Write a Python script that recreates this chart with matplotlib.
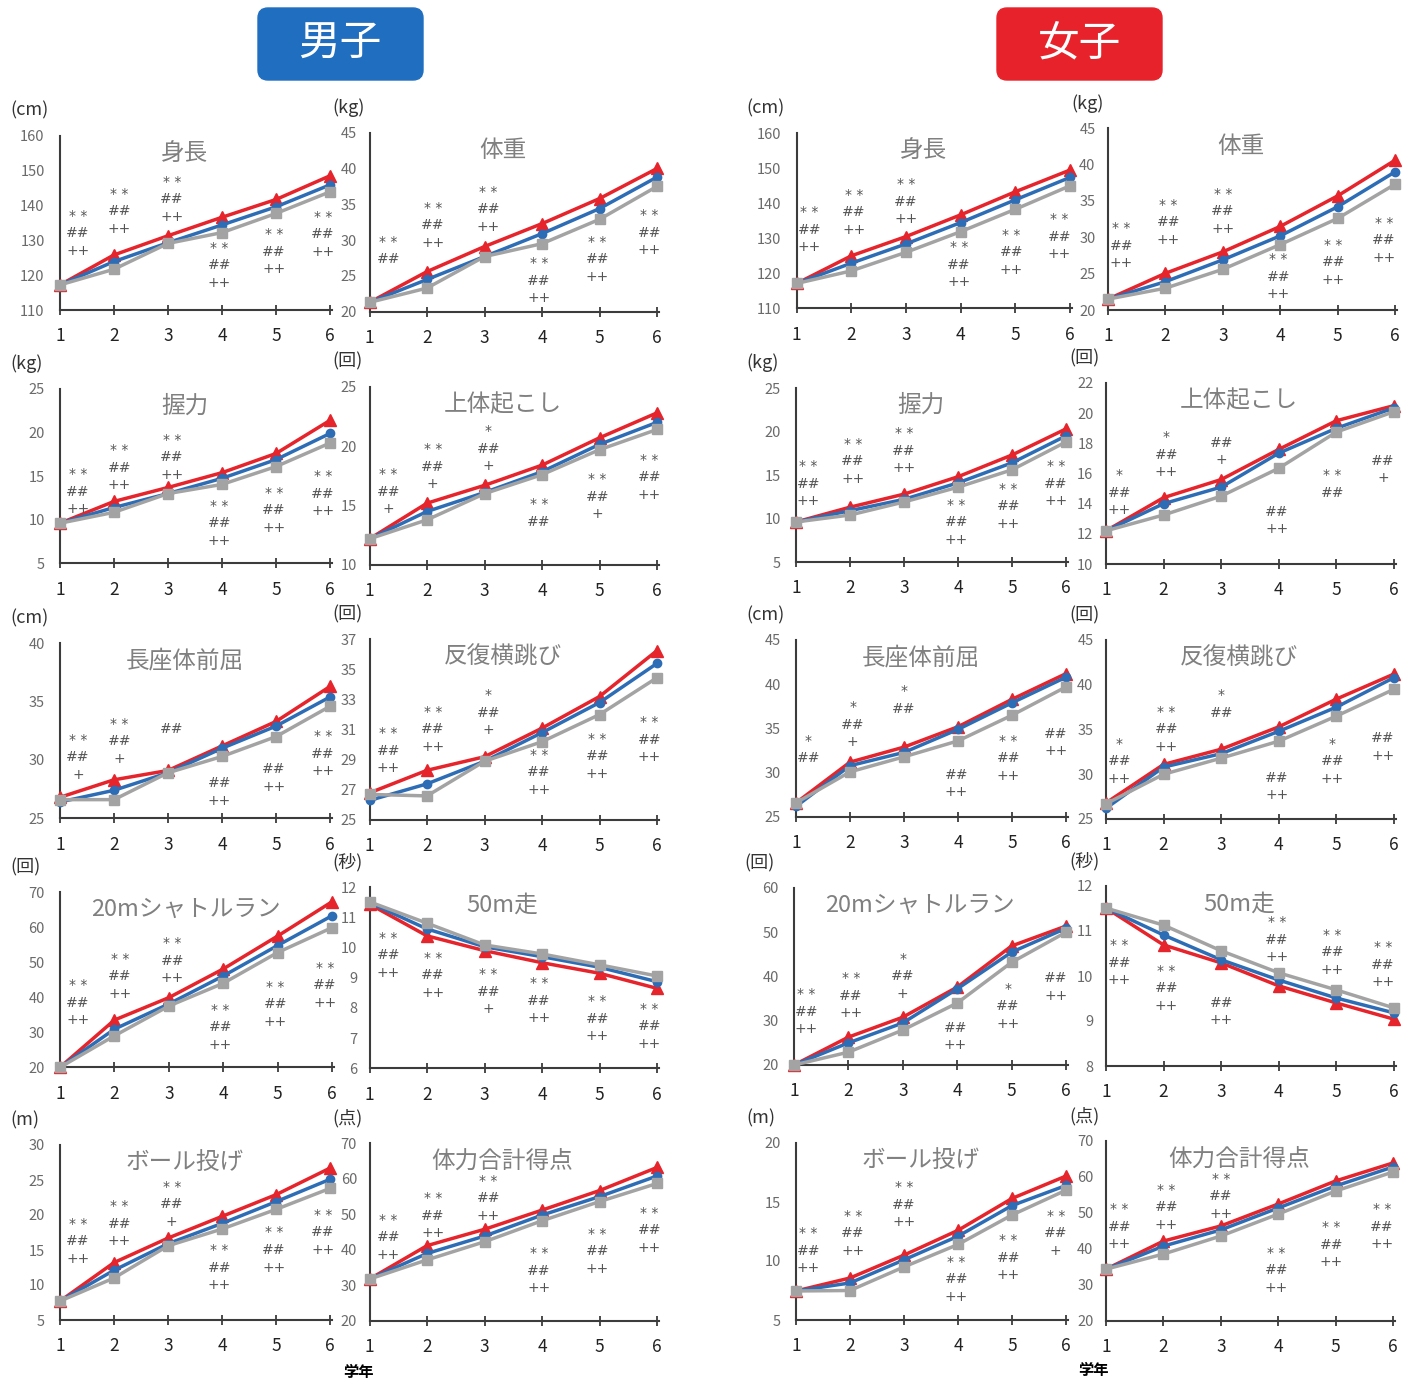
import matplotlib
matplotlib.use("Agg")
import matplotlib.pyplot as plt
from matplotlib.patches import FancyBboxPatch
import matplotlib.transforms as mtrans

plt.rcParams['font.family'] = ['Noto Sans CJK JP', 'DejaVu Sans']

W, H = 1410, 1381

grades = [1, 2, 3, 4, 5, 6]
titles = ["身長", "体重", "握力", "上体起こし", "長座体前屈", "反復横跳び",
          "20mシャトルラン", "50m走", "ボール投げ", "体力合計得点"]
units = ["(cm)", "(kg)", "(kg)", "(回)", "(cm)", "(回)", "(回)", "(秒)", "(m)", "(点)"]

# ---- boys (red / blue / gray) ----
b_height_r = [117.2, 125.8, 131.3, 136.6, 141.7, 148.5]
b_height_b = [117.2, 123.9, 129.3, 134.4, 139.6, 145.9]
b_height_g = [117.2, 121.7, 129.1, 132.2, 137.7, 143.9]
b_weight_r = [21.3, 25.6, 29.1, 32.3, 35.8, 40.0]
b_weight_b = [21.3, 24.5, 27.7, 30.9, 34.4, 38.8]
b_weight_g = [21.3, 23.3, 27.7, 29.5, 32.9, 37.5]
b_grip_r = [9.6, 12.1, 13.7, 15.4, 17.6, 21.4]
b_grip_b = [9.6, 11.4, 13.0, 14.75, 16.9, 19.9]
b_grip_g = [9.6, 10.85, 13.0, 14.05, 16.1, 18.8]
b_situp_r = [12.2, 15.2, 16.7, 18.4, 20.7, 22.8]
b_situp_b = [12.2, 14.5, 16.1, 17.85, 20.15, 22.0]
b_situp_g = [12.2, 13.8, 16.0, 17.6, 19.7, 21.4]
b_reach_r = [26.8, 28.3, 29.1, 31.2, 33.3, 36.3]
b_reach_b = [26.4, 27.4, 28.9, 31.0, 32.9, 35.4]
b_reach_g = [26.6, 26.6, 28.9, 30.3, 32.0, 34.6]
b_step_r = [26.8, 28.3, 29.2, 31.1, 33.2, 36.25]
b_step_b = [26.3, 27.4, 28.9, 30.8, 32.8, 35.4]
b_step_g = [26.7, 26.6, 28.9, 30.2, 32.0, 34.45]
b_shuttle_r = [20, 33.5, 39.9, 48.1, 57.5, 67.3]
b_shuttle_b = [20, 30.9, 38.1, 46.1, 54.8, 63.3]
b_shuttle_g = [20, 29.0, 37.5, 44.0, 52.8, 59.9]
b_dash_r = [11.44, 10.39, 9.9, 9.5, 9.15, 8.65]
b_dash_b = [11.49, 10.62, 10.03, 9.7, 9.35, 8.87]
b_dash_g = [11.52, 10.81, 10.09, 9.79, 9.43, 9.06]
b_throw_r = [7.7, 13.2, 16.7, 19.8, 22.9, 26.7]
b_throw_b = [7.7, 12.1, 15.9, 18.8, 21.9, 25.1]
b_throw_g = [7.7, 11.0, 15.6, 18.0, 20.8, 23.8]
b_total_r = [31.8, 41.2, 45.8, 51.2, 56.7, 63.2]
b_total_b = [31.8, 39.0, 43.9, 49.8, 55.0, 60.8]
b_total_g = [31.8, 37.2, 42.3, 48.2, 53.6, 58.7]

# ---- girls (red / blue / gray) ----
g_height_r = [117.1, 125.0, 130.5, 136.7, 143.3, 149.5]
g_height_b = [117.1, 122.9, 128.4, 134.5, 141.0, 147.4]
g_height_g = [117.1, 120.7, 126.0, 131.9, 138.3, 145.0]
g_weight_r = [21.5, 25.05, 28.0, 31.5, 35.7, 40.6]
g_weight_b = [21.5, 23.9, 26.9, 30.2, 34.2, 39.0]
g_weight_g = [21.5, 23.0, 25.6, 29.0, 32.6, 37.3]
g_grip_r = [9.6, 11.3, 12.8, 14.8, 17.3, 20.3]
g_grip_b = [9.6, 10.9, 12.2, 14.1, 16.4, 19.5]
g_grip_g = [9.6, 10.4, 11.9, 13.6, 15.6, 18.8]
g_situp_r = [12.2, 14.4, 15.6, 17.6, 19.5, 20.5]
g_situp_b = [12.2, 14.0, 15.1, 17.35, 19.0, 20.35]
g_situp_g = [12.2, 13.25, 14.5, 16.35, 18.75, 20.1]
g_reach_r = [26.6, 31.2, 32.9, 35.2, 38.3, 41.2]
g_reach_b = [26.2, 30.8, 32.3, 34.9, 37.9, 40.8]
g_reach_g = [26.6, 30.1, 31.8, 33.6, 36.5, 39.7]
g_step_r = [26.8, 31.1, 32.8, 35.3, 38.4, 41.2]
g_step_b = [26.2, 30.8, 32.3, 34.8, 37.5, 40.8]
g_step_g = [26.7, 30.0, 31.8, 33.7, 36.5, 39.5]
g_shuttle_r = [20, 26.3, 30.8, 37.6, 46.9, 51.4]
g_shuttle_b = [20, 25.0, 29.5, 37.2, 45.5, 50.9]
g_shuttle_g = [20, 22.9, 27.9, 34.0, 43.2, 50.0]
g_dash_r = [11.51, 10.69, 10.29, 9.78, 9.4, 9.04]
g_dash_b = [11.51, 10.91, 10.36, 9.91, 9.51, 9.18]
g_dash_g = [11.51, 11.13, 10.56, 10.07, 9.69, 9.29]
g_throw_r = [7.46, 8.56, 10.5, 12.6, 15.3, 17.2]
g_throw_b = [7.46, 8.14, 10.1, 12.1, 14.7, 16.4]
g_throw_g = [7.46, 7.5, 9.5, 11.4, 13.9, 16.0]
g_total_r = [34.4, 42.2, 46.4, 52.5, 58.9, 63.9]
g_total_b = [34.4, 40.8, 45.3, 51.4, 57.5, 62.8]
g_total_g = [34.4, 38.6, 43.6, 49.7, 56.1, 61.4]

# y axis ranges (min, max, step)
boys_yaxis = [(110, 160, 10), (20, 45, 5), (5, 25, 5), (10, 25, 5), (25, 40, 5),
              (25, 37, 2), (20, 70, 10), (6, 12, 1), (5, 30, 5), (20, 70, 10)]
girls_yaxis = [(110, 160, 10), (20, 45, 5), (5, 25, 5), (10, 22, 2), (25, 45, 5),
               (25, 45, 5), (20, 60, 10), (8, 12, 1), (5, 20, 5), (20, 70, 10)]

# significance marks per grade
A = "**/##/++"
boys_marks = [
    [A] * 6,
    ["**/##", A, A, A, A, A],
    [A] * 6,
    ["**/##/+", "**/##/+", "*/##/+", "**/##", "**/##/+", A],
    ["**/##/+", "**/##/+", "##", "##/++", "##/++", A],
    [A, A, "*/##/+", A, A, A],
    [A] * 6,
    [A, A, "**/##/+", A, A, A],
    [A, A, "**/##/+", A, A, A],
    [A] * 6,
]
girls_marks = [
    [A] * 6,
    [A] * 6,
    [A] * 6,
    ["*/##/++", "*/##/++", "##/+", "##/++", "**/##", "##/+"],
    ["*/##", "*/##/+", "*/##", "##/++", A, "##/++"],
    ["*/##/++", A, "*/##", "##/++", "*/##/++", "##/++"],
    [A, A, "*/##/+", "##/++", "*/##/++", "##/++"],
    [A, A, "##/++", A, A, A],
    [A, A, A, A, A, "**/##/+"],
    [A] * 6,
]

boys_series = [
    (b_height_r, b_height_b, b_height_g), (b_weight_r, b_weight_b, b_weight_g),
    (b_grip_r, b_grip_b, b_grip_g), (b_situp_r, b_situp_b, b_situp_g),
    (b_reach_r, b_reach_b, b_reach_g), (b_step_r, b_step_b, b_step_g),
    (b_shuttle_r, b_shuttle_b, b_shuttle_g), (b_dash_r, b_dash_b, b_dash_g),
    (b_throw_r, b_throw_b, b_throw_g), (b_total_r, b_total_b, b_total_g),
]
girls_series = [
    (g_height_r, g_height_b, g_height_g), (g_weight_r, g_weight_b, g_weight_g),
    (g_grip_r, g_grip_b, g_grip_g), (g_situp_r, g_situp_b, g_situp_g),
    (g_reach_r, g_reach_b, g_reach_g), (g_step_r, g_step_b, g_step_g),
    (g_shuttle_r, g_shuttle_b, g_shuttle_g), (g_dash_r, g_dash_b, g_dash_g),
    (g_throw_r, g_throw_b, g_throw_g), (g_total_r, g_total_b, g_total_g),
]

# ---- layout (pixels): x of grade 1, x of grade 6, y bottom, y top ----
boys_boxes = [(60, 330, 310, 135.7), (369.5, 657, 311.7, 132.7),
              (60, 330, 563.3, 389), (369.5, 657, 565, 386.7),
              (60, 330, 818.3, 643.3), (369.5, 657, 820, 639.3),
              (60, 332, 1067.3, 892.3), (369.5, 657, 1068.3, 887.3),
              (60, 330, 1320, 1145), (369.5, 657, 1321, 1143.3)]
girls_boxes = [(796.7, 1070, 308.3, 133.3), (1108, 1395, 310, 128.3),
               (796, 1066, 562, 388), (1106, 1394, 564, 383),
               (796, 1066, 817, 640), (1106, 1394, 819, 640),
               (794, 1066, 1065, 888), (1106, 1394, 1066, 886),
               (796, 1066, 1320, 1143), (1106, 1393, 1321, 1141)]

# mark positions: axes fraction of first line, x in grade units
boys_mark_y = [[0.54, 0.667, 0.735, 0.357, 0.436, 0.534],
               [0.39, 0.58, 0.67, 0.27, 0.39, 0.54],
               [0.51, 0.65, 0.71, 0.33, 0.405, 0.50],
               [0.51, 0.65, 0.75, 0.34, 0.48, 0.59],
               [0.45, 0.54, 0.51, 0.20, 0.28, 0.47],
               [0.48, 0.60, 0.69, 0.36, 0.45, 0.54],
               [0.47, 0.62, 0.71, 0.33, 0.46, 0.57],
               [0.72, 0.61, 0.52, 0.47, 0.37, 0.33],
               [0.55, 0.65, 0.76, 0.40, 0.50, 0.60],
               [0.57, 0.69, 0.79, 0.38, 0.49, 0.61]]
girls_mark_y = [[0.55, 0.65, 0.71, 0.35, 0.42, 0.51],
                [0.45, 0.58, 0.64, 0.28, 0.36, 0.48],
                [0.55, 0.68, 0.74, 0.33, 0.42, 0.55],
                [0.49, 0.70, 0.67, 0.29, 0.49, 0.57],
                [0.43, 0.62, 0.71, 0.24, 0.43, 0.47],
                [0.42, 0.60, 0.69, 0.23, 0.42, 0.45],
                [0.40, 0.49, 0.60, 0.21, 0.43, 0.49],
                [0.67, 0.53, 0.35, 0.80, 0.73, 0.66],
                [0.49, 0.59, 0.75, 0.33, 0.45, 0.59],
                [0.62, 0.73, 0.79, 0.38, 0.52, 0.62]]
boys_mark_x = [1.33, 2.1, 3.07, 3.95, 4.96, 5.87]
girls_mark_x = [1.23, 2.05, 3.0, 3.97, 4.93, 5.81]

RED, BLUE, GRAY = "#E5242B", "#2D6DB5", "#A3A3A3"
AXC = "#3c3c3c"
MARKC = "#555555"

fig = plt.figure(figsize=(W / 100, H / 100), dpi=100)

bg = fig.add_axes([0, 0, 1, 1])
bg.set_xlim(0, W)
bg.set_ylim(H, 0)
bg.axis("off")

# header boxes
for x0, label, col in [(258, "男子", "#1F6EC0"), (997, "女子", "#E8222B")]:
    bg.add_patch(FancyBboxPatch((x0, 8), 165, 72, boxstyle="round,pad=0,rounding_size=10",
                                fc=col, ec=col, lw=1))
    bg.text(x0 + 82, 44, label, color="white", fontsize=30, ha="center", va="center")

bg.text(358, 1372, "学年", fontsize=11, fontweight="bold", ha="center", va="center")
bg.text(1093, 1370, "学年", fontsize=11, fontweight="bold", ha="center", va="center")


def draw_panel(box, col, series, yaxis, marks, mark_y, mark_x, title, unit):
    x1, x6, yb, yt = box
    step_px = (x6 - x1) / 5
    left = x1
    width = (x6 - x1) + step_px * 0.03
    ax = fig.add_axes([left / W, 1 - yb / H, width / W, (yb - yt) / H])
    ax.patch.set_alpha(0)
    lo, hi, st = yaxis
    ax.set_xlim(1, 6.03)
    ax.set_ylim(lo, hi)

    red, blue, gray = series
    ax.plot(grades, red, color=RED, lw=2.5, marker="^", ms=8.5, clip_on=False, zorder=3)
    ax.plot(grades, blue, color=BLUE, lw=2.5, marker="o", ms=6, clip_on=False, zorder=4)
    ax.plot(grades, gray, color=GRAY, lw=2.5, marker="s", ms=7, clip_on=False, zorder=5)

    for s in ["top", "right"]:
        ax.spines[s].set_visible(False)
    for s in ["left", "bottom"]:
        ax.spines[s].set_color(AXC)
        ax.spines[s].set_linewidth(1.5)

    ax.set_yticks(range(lo, hi + 1, st))
    ax.tick_params(axis="y", length=0, pad=11 if col == 0 else 9,
                   labelsize=10.5, labelcolor="#6a6a6a")
    ax.set_xticks(grades)
    ax.tick_params(axis="x", direction="inout", length=7, width=1.3, color=AXC,
                   pad=9, labelsize=12.5, labelcolor="#222222")

    ax.text(0.46, 0.90, title, transform=ax.transAxes, fontsize=17,
            color="#808080", ha="center", va="center")

    trans = mtrans.blended_transform_factory(ax.transData, ax.transAxes)
    line_step = 17.5 / (yb - yt)
    for m, my, mx in zip(marks, mark_y, mark_x):
        for i, part in enumerate(m.split("/")):
            txt = part.replace("**", "* *")
            ax.text(mx, my - i * line_step, txt, transform=trans, fontsize=10,
                    family="DejaVu Sans", color=MARKC, ha="center", va="center")

    off = 50 if col == 0 else 37
    bg.text(x1 - off, yt - 25, unit, fontsize=13, color="#333333",
            ha="left", va="center")


for boxes, series_list, yaxes, marks_list, my_list, mx in [
        (boys_boxes, boys_series, boys_yaxis, boys_marks, boys_mark_y, boys_mark_x),
        (girls_boxes, girls_series, girls_yaxis, girls_marks, girls_mark_y, girls_mark_x)]:
    for k in range(10):
        draw_panel(boxes[k], k % 2, series_list[k], yaxes[k], marks_list[k],
                   my_list[k], mx, titles[k], units[k])

fig.savefig("out.png", dpi=100)
